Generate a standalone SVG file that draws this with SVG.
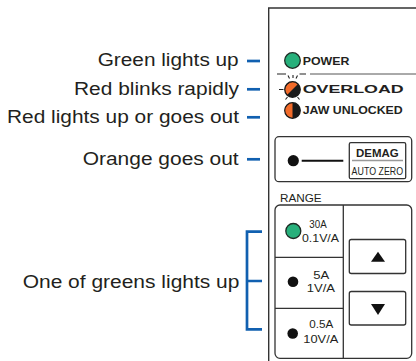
<svg xmlns="http://www.w3.org/2000/svg" width="416" height="361" viewBox="0 0 416 361">
<style>
.lbl{font-family:"Liberation Sans",Arial,sans-serif;font-size:17.5px;fill:#231f20}
.pt{font-family:"Liberation Sans",Arial,sans-serif;font-size:11.5px;font-weight:bold;fill:#231f20}
.rt{font-family:"Liberation Sans",Arial,sans-serif;font-size:10.5px;fill:#231f20}
.blue{stroke:#1160b0;stroke-width:2.7;fill:none}
.box{fill:#fff;stroke:#333;stroke-width:1.3}
.ray{stroke:#222;stroke-width:1.1}
</style>
<rect width="416" height="361" fill="#fff"/>
<g id="panel">
<path d="M268.7,361 V8 H416" fill="none" stroke="#333" stroke-width="1.4"/>
<path d="M310,74 H416" stroke="#555" stroke-width="1"/>
</g>
<g id="connectors">
<path class="blue" d="M247,61 H260"/>
<path class="blue" d="M247,89.3 H260"/>
<path class="blue" d="M247,117.3 H260"/>
<path class="blue" d="M247,159.3 H260"/>
<path class="blue" d="M262,231.7 H247 V329.3 H262 M247,281 H262"/>
</g>
<g id="label-green"><text class="lbl" x="97.7" y="66" textLength="141" lengthAdjust="spacingAndGlyphs">Green lights up</text></g>
<g id="label-blink"><text class="lbl" x="74" y="94.5" textLength="165" lengthAdjust="spacingAndGlyphs">Red blinks rapidly</text></g>
<g id="label-red"><text class="lbl" x="7" y="122.5" textLength="232" lengthAdjust="spacingAndGlyphs">Red lights up or goes out</text></g>
<g id="label-orange"><text class="lbl" x="82.7" y="165" textLength="156" lengthAdjust="spacingAndGlyphs">Orange goes out</text></g>
<g id="label-range"><text class="lbl" x="22.7" y="287.5" textLength="216.7" lengthAdjust="spacingAndGlyphs">One of greens lights up</text></g>
<g id="power">
<circle cx="292.5" cy="60.5" r="7.8" fill="#27b07b" stroke="#1d2b24" stroke-width="1.3"/>
<text class="pt" x="302.7" y="64.5" textLength="46.7" lengthAdjust="spacingAndGlyphs">POWER</text>
</g>
<g id="overload">
<text class="pt" x="302.7" y="93.3" textLength="101" lengthAdjust="spacingAndGlyphs">OVERLOAD</text>
<circle cx="292.5" cy="89.5" r="7.8" fill="#1a1a1a"/>
<path d="M287,95 A7.8,7.8 0 0 1 298,84 Z" fill="#f26b2a"/>
<circle cx="292.5" cy="89.5" r="7.8" fill="none" stroke="#1a1a1a" stroke-width="1.2"/>
<path class="ray" d="M277,74 H286 M288,75.5 L289.5,78.5 M293,75 V78 M297.5,75.5 L296,78.5 M279,89.5 H283.5 M285.5,99.5 L287.5,97 M299.5,99.5 L297.5,97 M299.5,74 H306"/>
</g>
<g id="jaw">
<circle cx="292.5" cy="110.5" r="7.8" fill="#1a1a1a"/>
<path d="M292.5,102.7 A7.8,7.8 0 0 0 292.5,118.3 Z" fill="#f26b2a"/>
<circle cx="292.5" cy="110.5" r="7.8" fill="none" stroke="#1a1a1a" stroke-width="1.2"/>
<text class="pt" x="302.7" y="114.3" textLength="100" lengthAdjust="spacingAndGlyphs">JAW UNLOCKED</text>
</g>
<g id="demag">
<rect class="box" x="275" y="136.7" width="136.7" height="45" rx="4"/>
<circle cx="293.3" cy="160.7" r="5.6" fill="#111"/>
<path d="M301.7,160.7 H343.3" stroke="#111" stroke-width="2"/>
<rect class="box" x="349.3" y="142.7" width="56.4" height="36" rx="1.5"/>
<text class="pt" x="356" y="156.7" textLength="42.7" lengthAdjust="spacingAndGlyphs">DEMAG</text>
<path d="M352,160.5 H403" stroke="#999" stroke-width="1.5"/>
<text x="351.6" y="174.5" textLength="51.5" lengthAdjust="spacingAndGlyphs" style="font-family:'Liberation Sans',Arial,sans-serif;font-size:11px;fill:#231f20">AUTO ZERO</text>
</g>
<g id="range">
<text class="rt" x="280" y="202.3" textLength="41.7" lengthAdjust="spacingAndGlyphs">RANGE</text>
<rect class="box" x="275" y="205" width="136.7" height="153.3" rx="5"/>
<path d="M343.3,205 V358.3 M275,257.3 H343.3 M275,308.3 H343.3" stroke="#333" stroke-width="1.3"/>
<text class="rt" x="309.3" y="227.8" textLength="17.4" lengthAdjust="spacingAndGlyphs">30A</text>
<text class="rt" x="302" y="242.3" textLength="37" lengthAdjust="spacingAndGlyphs">0.1V/A</text>
<circle cx="293.3" cy="231" r="7.5" fill="#27b07b" stroke="#1d2b24" stroke-width="1.3"/>
<text class="rt" x="313.3" y="279" textLength="16" lengthAdjust="spacingAndGlyphs">5A</text>
<text class="rt" x="306.7" y="291.7" textLength="28.3" lengthAdjust="spacingAndGlyphs">1V/A</text>
<circle cx="293" cy="281.7" r="5.3" fill="#111"/>
<text class="rt" x="309.3" y="328" textLength="24" lengthAdjust="spacingAndGlyphs">0.5A</text>
<text class="rt" x="303.3" y="343.3" textLength="35" lengthAdjust="spacingAndGlyphs">10V/A</text>
<circle cx="292.7" cy="333.5" r="5.3" fill="#111"/>
</g>
<g id="btn-up">
<rect class="box" x="349.3" y="239.5" width="56.4" height="34" rx="2"/>
<path d="M378,251.7 L385,261.7 H371 Z" fill="#111"/>
</g>
<g id="btn-down">
<rect class="box" x="349.3" y="291.5" width="56.4" height="33.5" rx="2"/>
<path d="M371,304 H385 L378,315 Z" fill="#111"/>
</g>
</svg>
